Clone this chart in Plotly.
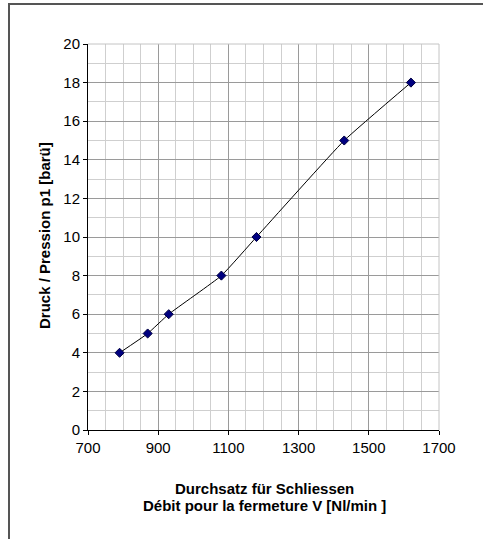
import plotly.graph_objects as go

# Flow rate for closing (Nl/min) vs. pressure p1 (bar gauge)
durchsatz = [790, 870, 930, 1080, 1180, 1430, 1620]
druck = [4, 5, 6, 8, 10, 15, 18]

x_ticks = [700, 900, 1100, 1300, 1500, 1700]
y_ticks = [0, 2, 4, 6, 8, 10, 12, 14, 16, 18, 20]

W, H = 483, 539
ML, MR, MT, MB = 88, 44, 44, 109
PW, PH = W - ML - MR, H - MT - MB

FONT = "Liberation Sans, Arial, sans-serif"

fig = go.Figure()
fig.add_trace(go.Scatter(
    x=durchsatz, y=druck, mode="lines+markers",
    line=dict(color="black", width=1, shape="spline", smoothing=0.4),
    marker=dict(symbol="diamond", size=7, color="#000080",
                line=dict(color="#000040", width=1)),
    showlegend=False,
))

axis_common = dict(
    showline=True, linecolor="black", linewidth=1,
    ticks="outside", ticklen=4, tickcolor="black", tickwidth=1,
    showgrid=True, gridcolor="#9a9a9a", gridwidth=1,
    zeroline=False, mirror=False,
    tickfont=dict(family=FONT, size=15, color="black"),
)

fig.update_xaxes(
    range=[700, 1700], tickvals=x_ticks,
    minor=dict(dtick=50, showgrid=True, gridcolor="#cfcfcf", gridwidth=1, ticks=""),
    **axis_common,
)
fig.update_yaxes(
    range=[0, 20], tickvals=y_ticks,
    minor=dict(dtick=1, showgrid=True, gridcolor="#cfcfcf", gridwidth=1, ticks=""),
    **axis_common,
)

def px_x(p):
    return (p - ML) / PW

def px_y(p):
    return 1 - (p - MT) / PH

title_font = dict(family=FONT, size=15, color="black")

# y-axis title
fig.add_annotation(text="<b>Druck / Pression p1 [barü]</b>", xref="paper", yref="paper",
                   x=px_x(44), y=px_y(236), xanchor="center", yanchor="middle",
                   textangle=-90, showarrow=False, font=title_font)

# x-axis title, two lines
fig.add_annotation(text="<b>Durchsatz für Schliessen</b>", xref="paper", yref="paper",
                   x=px_x(264), y=px_y(488.5), xanchor="center", yanchor="middle",
                   showarrow=False, font=title_font)
fig.add_annotation(text="<b>Débit pour la fermeture V [Nl/min ]</b>", xref="paper", yref="paper",
                   x=px_x(264), y=px_y(505.5), xanchor="center", yanchor="middle",
                   showarrow=False, font=title_font)

# light plot-area border on the top and right edges
edge = dict(color="#c4c4c4", width=1)
fig.add_shape(type="line", xref="paper", yref="paper", x0=0, x1=1, y0=1, y1=1, line=edge)
fig.add_shape(type="line", xref="paper", yref="paper", x0=1, x1=1, y0=0, y1=1, line=edge)

# outer frame (left and top edges)
frame = dict(color="#555555", width=2)
fig.add_shape(type="line", xref="paper", yref="paper",
              x0=px_x(9), x1=px_x(9), y0=px_y(3), y1=px_y(H + 5), line=frame)
fig.add_shape(type="line", xref="paper", yref="paper",
              x0=px_x(9), x1=px_x(W + 5), y0=px_y(4), y1=px_y(4), line=frame)

fig.update_layout(
    width=W, height=H,
    margin=dict(l=ML, r=MR, t=MT, b=MB),
    paper_bgcolor="white", plot_bgcolor="white",
    font=dict(family=FONT, color="black"),
)

fig.write_html("out.html")
